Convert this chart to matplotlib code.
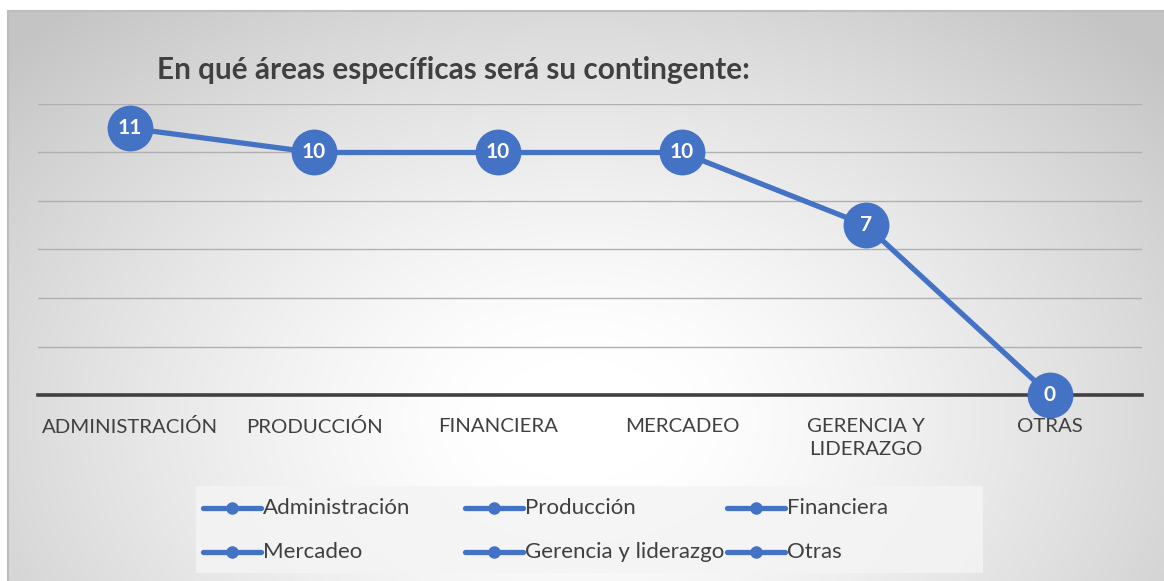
import numpy as np
import matplotlib
matplotlib.use("Agg")
import matplotlib.pyplot as plt
from matplotlib.lines import Line2D
from matplotlib.patches import Rectangle

categories = ["ADMINISTRACIÓN", "PRODUCCIÓN", "FINANCIERA", "MERCADEO", "GERENCIA Y\nLIDERAZGO", "OTRAS"]
values = [11, 10, 10, 10, 7, 0]
legend_labels = ["Administración", "Producción", "Financiera", "Mercadeo", "Gerencia y liderazgo", "Otras"]
title = "En qué áreas específicas será su contingente:"

BLUE = "#4472C4"
TXT = "#404040"
FONT = ["Lato", "DejaVu Sans"]

W, H = 1164, 581
fig = plt.figure(figsize=(W / 100, H / 100), dpi=100)
fig.patch.set_facecolor("white")

# background frame with radial gradient
x0, x1, ytop = 8, 1164, 11
bg = fig.add_axes([x0 / W, 0, (x1 - x0) / W, (H - ytop) / H])
nx, ny = 400, 200
xx, yy = np.meshgrid(np.linspace(x0, x1, nx), np.linspace(ytop, H, ny))
cx, cy, rx, ry = 580, 420, 600, 420
d = np.sqrt(((xx - cx) / rx) ** 2 + ((yy - cy) / ry) ** 2)
v = 1.0 - 0.23 * np.clip((d - 0.15) / 1.15, 0, 1) ** 1.3
img = np.dstack([v, v, v])
bg.imshow(img, aspect="auto", extent=[0, 1, 0, 1], origin="upper", interpolation="bilinear")
bg.set_xlim(0, 1); bg.set_ylim(0, 1)
bg.set_xticks([]); bg.set_yticks([])
for s in bg.spines.values():
    s.set_visible(False)
bg.spines["top"].set_visible(True); bg.spines["top"].set_color("#bdbdbd"); bg.spines["top"].set_linewidth(1.5)
bg.spines["left"].set_visible(True); bg.spines["left"].set_color("#bdbdbd"); bg.spines["left"].set_linewidth(1.5)

# main axes
pl, pr = 38, 1142
ptop, pbot = 104, 395
ax = fig.add_axes([pl / W, 1 - pbot / H, (pr - pl) / W, (pbot - ptop) / H])
ax.patch.set_alpha(0)
n = len(categories)
x = np.arange(n)
ax.set_xlim(-0.5, n - 0.5)
ax.set_ylim(0, 12)
ax.set_yticks(np.arange(0, 13, 2))
ax.yaxis.grid(True, color="#b0b0b0", linewidth=1.0)
ax.set_axisbelow(True)
ax.tick_params(axis="y", left=False, labelleft=False)
ax.tick_params(axis="x", bottom=False, pad=13)
for s in ["top", "right", "left"]:
    ax.spines[s].set_visible(False)
ax.spines["bottom"].set_color("#404040")
ax.spines["bottom"].set_linewidth(2.6)
ax.set_xticks(x)
ax.set_xticklabels(categories, fontsize=14.7, color=TXT, family=FONT, linespacing=1.4, va="top")

ax.plot(x, values, color=BLUE, linewidth=3.8, marker="o", markersize=32,
        markerfacecolor=BLUE, markeredgecolor=BLUE, clip_on=False, zorder=5)
for xi, vi in zip(x, values):
    ax.text(xi, vi, str(vi), ha="center", va="center", color="white",
            fontsize=15, fontweight="bold", family=FONT, zorder=6)

fig.text(453 / W, 1 - 70 / H, title, ha="center", va="center", fontsize=21.4,
         fontweight="bold", color=TXT, family=FONT)

# legend drawn in a pixel-coordinate overlay axes (equal-width columns like the original)
lg = fig.add_axes([0, 0, 1, 1])
lg.set_xlim(0, W); lg.set_ylim(H, 0)
lg.axis("off")
lg.patch.set_alpha(0)
lg.add_patch(Rectangle((196, 486), 787, 87, facecolor="#f4f4f4", edgecolor="none", alpha=0.85))
col_x = [203, 465, 727]
row_y = [508, 552]
for i, lab in enumerate(legend_labels):
    r, c = divmod(i, 3)
    hx, hy = col_x[c], row_y[r]
    lg.add_line(Line2D([hx, hx + 58], [hy, hy], color=BLUE, linewidth=3.8,
                       solid_capstyle="round"))
    lg.add_line(Line2D([hx + 29], [hy], color=BLUE, marker="o", markersize=8,
                       linestyle="none"))
    lg.text(hx + 60, hy, lab, ha="left", va="center", fontsize=16, color=TXT, family=FONT)

fig.savefig("out.png", dpi=100)
